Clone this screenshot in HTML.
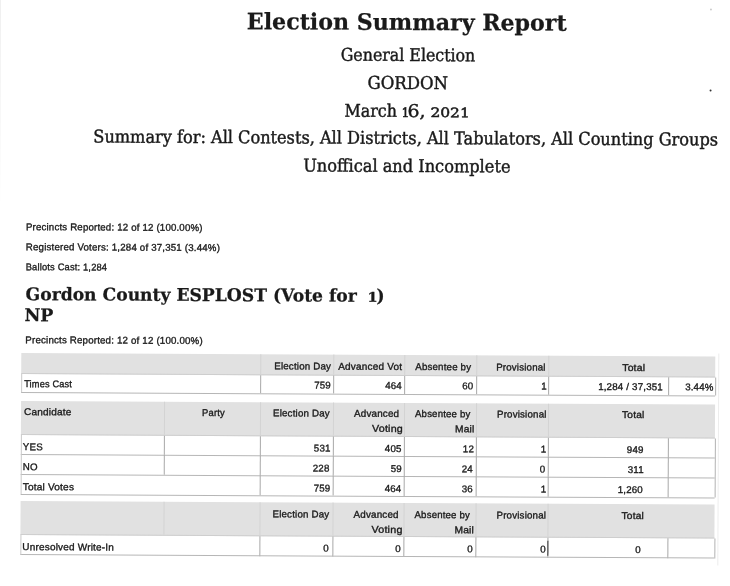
<!DOCTYPE html>
<html><head><meta charset="utf-8"><title>Election Summary Report</title><style>
html,body{margin:0;padding:0;background:#fff;}
body{width:730px;height:586px;overflow:hidden;position:relative;}
#pg{position:absolute;left:0;top:0;width:730px;height:586px;transform:rotate(0.275deg);transform-origin:0 0;}
.t{position:absolute;white-space:pre;transform-origin:0 0;color:#1a1a1a;}
.title{font-family:"DejaVu Serif", "Liberation Serif", serif;font-weight:700;font-size:22.6px;line-height:30px;letter-spacing:0px;-webkit-text-stroke:0.25px #1a1a1a;}
.sub{font-family:"DejaVu Serif", "Liberation Serif", serif;font-weight:400;font-size:17.6px;line-height:24px;letter-spacing:0px;-webkit-text-stroke:0.45px #1a1a1a;}
.subsm{font-family:"DejaVu Serif", "Liberation Serif", serif;font-weight:400;font-size:13.0px;line-height:20px;letter-spacing:0px;-webkit-text-stroke:0.5px #1a1a1a;}
.head{font-family:"DejaVu Serif", "Liberation Serif", serif;font-weight:700;font-size:17.5px;line-height:24px;letter-spacing:0px;-webkit-text-stroke:0.25px #1a1a1a;}
.headsm{font-family:"DejaVu Serif", "Liberation Serif", serif;font-weight:700;font-size:13.2px;line-height:20px;letter-spacing:0px;-webkit-text-stroke:0.3px #1a1a1a;}
.sans{font-family:"Liberation Sans", "DejaVu Sans", sans-serif;font-weight:400;font-size:9.8px;line-height:14px;letter-spacing:0.2px;-webkit-text-stroke:0.35px #1a1a1a;}

.hd{position:absolute;background:#e1e1e1;}
.hb{position:absolute;height:1px;background:#cecece;}
.vl{position:absolute;width:1px;background:#a8a8a8;}
.ob{position:absolute;width:1px;background:#cacaca;}
.obr{position:absolute;width:1px;background:#b2b2b2;}
.hv{position:absolute;width:1px;background:#d3d3d3;}
.hl{position:absolute;height:1px;background:#b6b6b6;}
.bar{position:absolute;width:1.2px;background:#3a3a3a;}
.dot{position:absolute;width:2px;height:2px;border-radius:1px;background:#333;}
.dot2{position:absolute;width:2px;height:2px;border-radius:1px;background:#ccc;}
.edge{position:absolute;left:-1px;top:0;width:2px;height:330px;background:#f0f0f0;}
.redge{position:absolute;left:720px;top:350px;width:1px;height:212px;background:#ededed;}
</style></head>
<body><div id="pg">
<div class="hd" style="left:23.40px;top:353.25px;width:694.10px;height:20.55px"></div>
<div class="hb" style="left:23.40px;top:372.80px;width:694.10px"></div>
<div class="hv" style="left:262.30px;top:353.25px;height:19.55px"></div>
<div class="hv" style="left:334.50px;top:353.25px;height:19.55px"></div>
<div class="hv" style="left:406.30px;top:353.25px;height:19.55px"></div>
<div class="hv" style="left:478.40px;top:353.25px;height:19.55px"></div>
<div class="hv" style="left:550.00px;top:353.25px;height:19.55px"></div>
<div class="vl" style="left:262.30px;top:373.80px;height:18.20px"></div>
<div class="vl" style="left:334.50px;top:373.80px;height:18.20px"></div>
<div class="vl" style="left:406.30px;top:373.80px;height:18.20px"></div>
<div class="vl" style="left:478.40px;top:373.80px;height:18.20px"></div>
<div class="vl" style="left:550.00px;top:373.80px;height:18.20px"></div>
<div class="vl" style="left:670.20px;top:373.80px;height:18.20px"></div>
<div class="hl" style="left:23.40px;top:391.50px;width:694.10px"></div>
<div class="ob" style="left:22.90px;top:373.80px;height:18.20px"></div>
<div class="obr" style="left:717.00px;top:373.80px;height:18.20px"></div>
<div class="hd" style="left:23.40px;top:400.90px;width:694.10px;height:33.70px"></div>
<div class="hb" style="left:23.40px;top:433.60px;width:694.10px"></div>
<div class="hv" style="left:165.50px;top:400.90px;height:32.70px"></div>
<div class="hv" style="left:262.30px;top:400.90px;height:32.70px"></div>
<div class="hv" style="left:334.50px;top:400.90px;height:32.70px"></div>
<div class="hv" style="left:406.30px;top:400.90px;height:32.70px"></div>
<div class="hv" style="left:478.40px;top:400.90px;height:32.70px"></div>
<div class="hv" style="left:550.00px;top:400.90px;height:32.70px"></div>
<div class="vl" style="left:262.30px;top:434.60px;height:19.80px"></div>
<div class="vl" style="left:334.50px;top:434.60px;height:19.80px"></div>
<div class="vl" style="left:406.30px;top:434.60px;height:19.80px"></div>
<div class="vl" style="left:478.40px;top:434.60px;height:19.80px"></div>
<div class="vl" style="left:550.00px;top:434.60px;height:19.80px"></div>
<div class="vl" style="left:670.20px;top:434.60px;height:19.80px"></div>
<div class="vl" style="left:165.50px;top:434.60px;height:19.80px"></div>
<div class="hl" style="left:23.40px;top:453.90px;width:694.10px"></div>
<div class="vl" style="left:262.30px;top:454.40px;height:20.00px"></div>
<div class="vl" style="left:334.50px;top:454.40px;height:20.00px"></div>
<div class="vl" style="left:406.30px;top:454.40px;height:20.00px"></div>
<div class="vl" style="left:478.40px;top:454.40px;height:20.00px"></div>
<div class="vl" style="left:550.00px;top:454.40px;height:20.00px"></div>
<div class="vl" style="left:670.20px;top:454.40px;height:20.00px"></div>
<div class="vl" style="left:165.50px;top:454.40px;height:20.00px"></div>
<div class="hl" style="left:23.40px;top:473.90px;width:694.10px"></div>
<div class="vl" style="left:262.30px;top:474.40px;height:19.90px"></div>
<div class="vl" style="left:334.50px;top:474.40px;height:19.90px"></div>
<div class="vl" style="left:406.30px;top:474.40px;height:19.90px"></div>
<div class="vl" style="left:478.40px;top:474.40px;height:19.90px"></div>
<div class="vl" style="left:550.00px;top:474.40px;height:19.90px"></div>
<div class="vl" style="left:670.20px;top:474.40px;height:19.90px"></div>
<div class="hl" style="left:23.40px;top:493.80px;width:694.10px"></div>
<div class="ob" style="left:22.90px;top:434.60px;height:59.70px"></div>
<div class="obr" style="left:717.00px;top:434.60px;height:59.70px"></div>
<div class="hd" style="left:23.40px;top:500.90px;width:694.10px;height:34.30px"></div>
<div class="hb" style="left:23.40px;top:534.20px;width:694.10px"></div>
<div class="hv" style="left:165.50px;top:500.90px;height:33.30px"></div>
<div class="hv" style="left:262.30px;top:500.90px;height:33.30px"></div>
<div class="hv" style="left:334.50px;top:500.90px;height:33.30px"></div>
<div class="hv" style="left:406.30px;top:500.90px;height:33.30px"></div>
<div class="hv" style="left:478.40px;top:500.90px;height:33.30px"></div>
<div class="hv" style="left:550.00px;top:500.90px;height:33.30px"></div>
<div class="vl" style="left:262.30px;top:535.20px;height:19.40px"></div>
<div class="vl" style="left:334.50px;top:535.20px;height:19.40px"></div>
<div class="vl" style="left:406.30px;top:535.20px;height:19.40px"></div>
<div class="vl" style="left:478.40px;top:535.20px;height:19.40px"></div>
<div class="vl" style="left:550.00px;top:535.20px;height:19.40px"></div>
<div class="vl" style="left:670.20px;top:535.20px;height:19.40px"></div>
<div class="hl" style="left:23.40px;top:554.10px;width:694.10px"></div>
<div class="ob" style="left:22.90px;top:535.20px;height:19.40px"></div>
<div class="obr" style="left:717.00px;top:535.20px;height:19.40px"></div>
<div class="t sans" style="left:275.80px;top:358.20px;transform:scaleX(0.9913)">Election Day</div>
<div class="t sans" style="left:340.30px;top:358.20px;transform:scaleX(1.0169)">Advanced Vot</div>
<div class="t sans" style="left:416.90px;top:358.20px;transform:scaleX(0.9882)">Absentee by</div>
<div class="t sans" style="left:498.40px;top:358.20px;transform:scaleX(0.9851)">Provisional</div>
<div class="t sans" style="left:624.20px;top:358.20px;transform:scaleX(1.0602)">Total</div>
<div class="t sans" style="left:26.40px;top:377.40px;transform:scaleX(0.9366)">Times Cast</div>
<div class="t sans" style="left:315.87px;top:377.40px;transform:scaleX(0.9900)">759</div>
<div class="t sans" style="left:386.68px;top:377.40px;transform:scaleX(0.9900)">464</div>
<div class="t sans" style="left:464.37px;top:377.40px;transform:scaleX(0.9900)">60</div>
<div class="t sans" style="left:542.55px;top:377.40px;transform:scaleX(0.9900)">1</div>
<div class="t sans" style="left:600.15px;top:377.40px;transform:scaleX(0.9900)">1,284 / 37,351</div>
<div class="t sans" style="left:686.92px;top:377.40px;transform:scaleX(0.9900)">3.44%</div>
<div class="t sans" style="left:25.50px;top:405.40px;transform:scaleX(1.0210)">Candidate</div>
<div class="t sans" style="left:203.60px;top:405.40px;transform:scaleX(0.9593)">Party</div>
<div class="t sans" style="left:275.30px;top:405.40px;transform:scaleX(0.9895)">Election Day</div>
<div class="t sans" style="left:356.20px;top:405.40px;transform:scaleX(1.0017)">Advanced</div>
<div class="t sans" style="left:373.80px;top:419.80px;transform:scaleX(1.0939)">Voting</div>
<div class="t sans" style="left:417.10px;top:405.40px;transform:scaleX(0.9794)">Absentee by</div>
<div class="t sans" style="left:456.70px;top:419.80px;transform:scaleX(1.0443)">Mail</div>
<div class="t sans" style="left:498.70px;top:405.40px;transform:scaleX(0.9891)">Provisional</div>
<div class="t sans" style="left:624.40px;top:405.40px;transform:scaleX(1.0367)">Total</div>
<div class="t sans" style="left:25.20px;top:439.80px;transform:scaleX(0.9900)">YES</div>
<div class="t sans" style="left:315.87px;top:439.80px;transform:scaleX(0.9900)">531</div>
<div class="t sans" style="left:386.68px;top:439.80px;transform:scaleX(0.9900)">405</div>
<div class="t sans" style="left:465.36px;top:439.80px;transform:scaleX(0.9900)">12</div>
<div class="t sans" style="left:542.55px;top:439.80px;transform:scaleX(0.9900)">1</div>
<div class="t sans" style="left:629.07px;top:439.80px;transform:scaleX(0.9900)">949</div>
<div class="t sans" style="left:25.20px;top:459.80px;transform:scaleX(0.9900)">NO</div>
<div class="t sans" style="left:314.88px;top:459.80px;transform:scaleX(0.9900)">228</div>
<div class="t sans" style="left:393.26px;top:459.80px;transform:scaleX(0.9900)">59</div>
<div class="t sans" style="left:464.37px;top:459.80px;transform:scaleX(0.9900)">24</div>
<div class="t sans" style="left:541.56px;top:459.80px;transform:scaleX(0.9900)">0</div>
<div class="t sans" style="left:629.79px;top:459.80px;transform:scaleX(0.9900)">311</div>
<div class="t sans" style="left:25.20px;top:479.70px;transform:scaleX(1.0274)">Total Votes</div>
<div class="t sans" style="left:315.87px;top:479.70px;transform:scaleX(0.9900)">759</div>
<div class="t sans" style="left:386.68px;top:479.70px;transform:scaleX(0.9900)">464</div>
<div class="t sans" style="left:464.37px;top:479.70px;transform:scaleX(0.9900)">36</div>
<div class="t sans" style="left:542.55px;top:479.70px;transform:scaleX(0.9900)">1</div>
<div class="t sans" style="left:619.59px;top:479.70px;transform:scaleX(0.9900)">1,260</div>
<div class="t sans" style="left:275.30px;top:506.30px;transform:scaleX(0.9895)">Election Day</div>
<div class="t sans" style="left:356.20px;top:506.30px;transform:scaleX(1.0017)">Advanced</div>
<div class="t sans" style="left:373.80px;top:520.70px;transform:scaleX(1.0939)">Voting</div>
<div class="t sans" style="left:417.10px;top:506.30px;transform:scaleX(0.9794)">Absentee by</div>
<div class="t sans" style="left:456.70px;top:520.70px;transform:scaleX(1.0443)">Mail</div>
<div class="t sans" style="left:498.70px;top:506.30px;transform:scaleX(0.9891)">Provisional</div>
<div class="t sans" style="left:624.40px;top:506.30px;transform:scaleX(1.0367)">Total</div>
<div class="t sans" style="left:25.00px;top:540.20px;transform:scaleX(1.0163)">Unresolved Write-In</div>
<div class="t sans" style="left:326.06px;top:540.20px;transform:scaleX(0.9900)">0</div>
<div class="t sans" style="left:397.86px;top:540.20px;transform:scaleX(0.9900)">0</div>
<div class="t sans" style="left:469.96px;top:540.20px;transform:scaleX(0.9900)">0</div>
<div class="t sans" style="left:542.56px;top:540.20px;transform:scaleX(0.9900)">0</div>
<div class="t sans" style="left:638.26px;top:540.20px;transform:scaleX(0.9900)">0</div>
<div class="bar" style="left:550.10px;top:538.20px;height:14.90px"></div>
<div class="t title" style="left:247.32px;top:4.50px;transform:scaleX(0.9788)">Election Summary Report</div>
<div class="t sub" style="left:340.50px;top:41.00px;transform:scaleX(0.8992)">General Election</div>
<div class="t sub" style="left:367.70px;top:68.80px;transform:scaleX(0.9384)">GORDON</div>
<div class="t sub" style="left:345.30px;top:96.60px;transform:scaleX(0.9036)">March</div>
<div class="t subsm" style="left:401.60px;top:100.60px;transform:scaleX(0.9500)">1</div>
<div class="t sub" style="left:408.03px;top:96.60px;transform:scaleX(1.0709)">6,</div>
<div class="t subsm" style="left:431.20px;top:100.60px;transform:scaleX(1.1882)">2021</div>
<div class="t sub" style="left:94.38px;top:124.00px;transform:scaleX(0.9177)">Summary for: All Contests, All Districts, All Tabulators, All Counting Groups</div>
<div class="t sub" style="left:304.10px;top:152.00px;transform:scaleX(0.9200)">Unoffical and Incomplete</div>
<div class="t sans" style="left:27.00px;top:219.90px;transform:scaleX(0.9837)">Precincts Reported: 12 of 12 (100.00%)</div>
<div class="t sans" style="left:27.00px;top:240.20px;transform:scaleX(0.9869)">Registered Voters: 1,284 of 37,351 (3.44%)</div>
<div class="t sans" style="left:27.00px;top:260.00px;transform:scaleX(0.9470)">Ballots Cast: 1,284</div>
<div class="t head" style="left:26.50px;top:282.10px;transform:scaleX(0.9799)">Gordon County ESPLOST (Vote for</div>
<div class="t headsm" style="left:368.90px;top:286.10px;transform:scaleX(1.1000)">1</div>
<div class="t head" style="left:378.40px;top:282.10px;transform:scaleX(0.9714)">)</div>
<div class="t head" style="left:26.00px;top:303.30px;transform:scaleX(0.9932)">NP</div>
<div class="t sans" style="left:26.50px;top:332.90px;transform:scaleX(0.9876)">Precincts Reported: 12 of 12 (100.00%)</div>
<div class="dot" style="left:710.4px;top:85.6px"></div>
<div class="dot2" style="left:710.3px;top:4.8px"></div>
<div class="edge"></div>
<div class="redge"></div>
</div></body></html>
